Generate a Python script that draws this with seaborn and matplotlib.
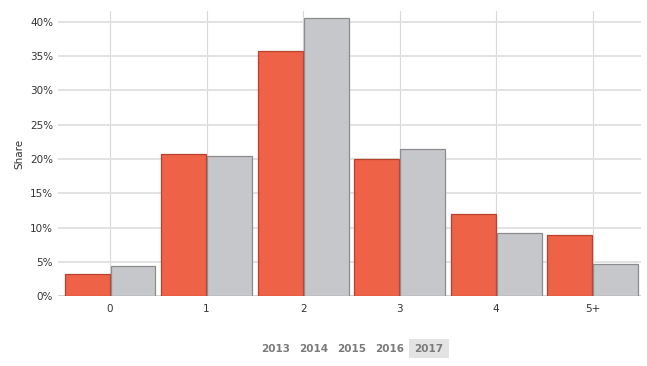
import pandas as pd
import seaborn as sns
import matplotlib.pyplot as plt
from matplotlib.patches import Rectangle
from matplotlib.ticker import FuncFormatter

# datos (porcentaje)
categories = ['0', '1', '2', '3', '4', '5+']
serie_a = [3.2, 20.7, 35.8, 20.0, 12.0, 8.9]
serie_b = [4.4, 20.4, 40.6, 21.5, 9.2, 4.7]
years = ['2013', '2014', '2015', '2016', '2017']
active_year = '2017'

df = pd.DataFrame({
    'cat': categories * 2,
    'share': serie_a + serie_b,
    'grupo': ['A'] * len(categories) + ['B'] * len(categories),
})

sns.set_style('white')
plt.rcParams['font.family'] = ['DejaVu Sans']

fig = plt.figure(figsize=(6.47, 3.66), dpi=100)
ax = fig.add_axes([0.0896, 0.191, 0.901, 0.779])

sns.barplot(data=df, x='cat', y='share', hue='grupo', order=categories,
            palette={'A': '#ee6248', 'B': '#c6c7cb'}, saturation=1,
            width=0.95, gap=0.02, legend=False, ax=ax, zorder=3)

edges = {'A': '#b8412e', 'B': '#8c8c8c'}
for cont, g in zip(ax.containers, ['A', 'B']):
    for bar in cont:
        bar.set_edgecolor(edges[g])
        bar.set_linewidth(0.9)

ax.set_ylim(0, 41.6)
ax.set_xlim(-0.54, 5.5)
ax.set_yticks(range(0, 41, 5))
ax.yaxis.set_major_formatter(FuncFormatter(lambda v, p: f'{int(v)}%'))
ax.grid(axis='y', color='#e2e2e2', linewidth=1.4, zorder=0)
ax.grid(axis='x', color='#d9d9d9', linewidth=0.8, zorder=0)
for s in ax.spines.values():
    s.set_visible(False)
ax.axhline(0, color='#d0d0d0', linewidth=1.2, zorder=2)
ax.tick_params(length=0, labelsize=7.5, colors='#333333')
ax.tick_params(axis='x', pad=6)
ax.set_xlabel('')
ax.set_ylabel('Share', fontsize=7.5, color='#333333', labelpad=4)

# selector de años abajo
xs = [276, 314, 352, 390, 429]
for yr, x in zip(years, xs):
    if yr == active_year:
        fig.patches.append(Rectangle(((x - 20) / 647, 1 - 358 / 366), 40 / 647, 19 / 366,
                                     transform=fig.transFigure, facecolor='#e3e3e3',
                                     edgecolor='none'))
    fig.text(x / 647, 1 - 349 / 366, yr, ha='center', va='center', fontsize=7.5,
             fontweight='bold', color='#7a7a7a')

plt.savefig('out.png', dpi=100)
plt.close()
